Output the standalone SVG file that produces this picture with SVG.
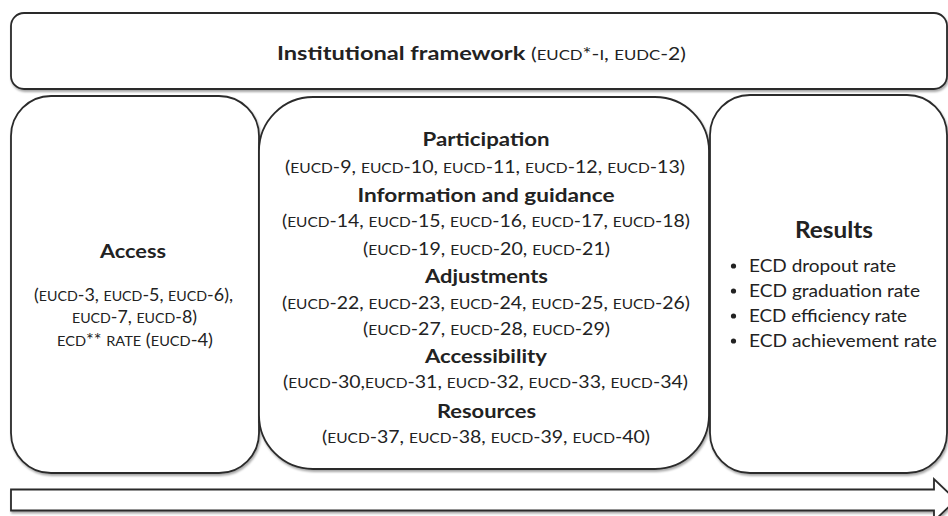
<svg xmlns="http://www.w3.org/2000/svg" width="948" height="516" viewBox="0 0 948 516">
<defs>
<filter id="sh" x="-5%" y="-5%" width="110%" height="115%">
<feDropShadow dx="1" dy="2" stdDeviation="1.2" flood-color="#000" flood-opacity="0.35"/>
</filter>
</defs>
<style>
.box{fill:#fff;stroke:#2b2b2b;stroke-width:1.8;filter:url(#sh)}
text{font-family:Lato,"Open Sans","Liberation Sans",sans-serif;fill:#222}
.h{font-weight:bold;font-size:19px}
.t{font-size:17px}
.sc{font-size:13.5px}
.c{text-anchor:middle}
</style>
<rect width="948" height="516" fill="#fff"/>
<g id="framework">
<rect class="box" x="11" y="13" width="936" height="76" rx="13"/>
<text x="277" y="60" textLength="409" lengthAdjust="spacingAndGlyphs"><tspan class="h">Institutional framework </tspan><tspan class="t">(<tspan class="sc">EUCD</tspan>*-<tspan class="sc">I</tspan>, <tspan class="sc">EUDC</tspan>-2)</tspan></text>
</g>
<g id="access">
<rect class="box" x="11" y="96" width="248" height="377" rx="40"/>
<text class="h c" x="133" y="258" textLength="66" lengthAdjust="spacingAndGlyphs">Access</text>
<text class="t c" x="133.5" y="301" textLength="199" lengthAdjust="spacingAndGlyphs">(<tspan class="sc">EUCD</tspan>-3, <tspan class="sc">EUCD</tspan>-5, <tspan class="sc">EUCD</tspan>-6),</text>
<text class="t c" x="134.5" y="323" textLength="125" lengthAdjust="spacingAndGlyphs"><tspan class="sc">EUCD</tspan>-7, <tspan class="sc">EUCD</tspan>-8)</text>
<text class="t c" x="135" y="346" textLength="156" lengthAdjust="spacingAndGlyphs"><tspan class="sc">ECD</tspan>** <tspan class="sc">RATE</tspan> (<tspan class="sc">EUCD</tspan>-4)</text>
</g>
<g id="process">
<rect class="box" x="259" y="97" width="450" height="372" rx="54"/>
<text class="h c" x="486" y="146" textLength="127" lengthAdjust="spacingAndGlyphs">Participation</text>
<text class="t c" x="485" y="173" textLength="400" lengthAdjust="spacingAndGlyphs">(<tspan class="sc">EUCD</tspan>-9, <tspan class="sc">EUCD</tspan>-10, <tspan class="sc">EUCD</tspan>-11, <tspan class="sc">EUCD</tspan>-12, <tspan class="sc">EUCD</tspan>-13)</text>
<text class="h c" x="486" y="202" textLength="257" lengthAdjust="spacingAndGlyphs">Information and guidance</text>
<text class="t c" x="486" y="227" textLength="408" lengthAdjust="spacingAndGlyphs">(<tspan class="sc">EUCD</tspan>-14, <tspan class="sc">EUCD</tspan>-15, <tspan class="sc">EUCD</tspan>-16, <tspan class="sc">EUCD</tspan>-17, <tspan class="sc">EUCD</tspan>-18)</text>
<text class="t c" x="486.5" y="255" textLength="247" lengthAdjust="spacingAndGlyphs">(<tspan class="sc">EUCD</tspan>-19, <tspan class="sc">EUCD</tspan>-20, <tspan class="sc">EUCD</tspan>-21)</text>
<text class="h c" x="486.5" y="283" textLength="123" lengthAdjust="spacingAndGlyphs">Adjustments</text>
<text class="t c" x="486" y="309" textLength="408" lengthAdjust="spacingAndGlyphs">(<tspan class="sc">EUCD</tspan>-22, <tspan class="sc">EUCD</tspan>-23, <tspan class="sc">EUCD</tspan>-24, <tspan class="sc">EUCD</tspan>-25, <tspan class="sc">EUCD</tspan>-26)</text>
<text class="t c" x="486.5" y="335" textLength="247" lengthAdjust="spacingAndGlyphs">(<tspan class="sc">EUCD</tspan>-27, <tspan class="sc">EUCD</tspan>-28, <tspan class="sc">EUCD</tspan>-29)</text>
<text class="h c" x="486" y="363" textLength="122" lengthAdjust="spacingAndGlyphs">Accessibility</text>
<text class="t c" x="485.5" y="388" textLength="405" lengthAdjust="spacingAndGlyphs">(<tspan class="sc">EUCD</tspan>-30,<tspan class="sc">EUCD</tspan>-31, <tspan class="sc">EUCD</tspan>-32, <tspan class="sc">EUCD</tspan>-33, <tspan class="sc">EUCD</tspan>-34)</text>
<text class="h c" x="486.5" y="418" textLength="99" lengthAdjust="spacingAndGlyphs">Resources</text>
<text class="t c" x="486" y="443" textLength="328" lengthAdjust="spacingAndGlyphs">(<tspan class="sc">EUCD</tspan>-37, <tspan class="sc">EUCD</tspan>-38, <tspan class="sc">EUCD</tspan>-39, <tspan class="sc">EUCD</tspan>-40)</text>
</g>
<g id="results">
<rect class="box" x="710" y="95" width="237" height="378" rx="40"/>
<text class="h c" x="834" y="238" textLength="78" lengthAdjust="spacingAndGlyphs" style="font-size:22px">Results</text>
<circle cx="733.5" cy="266" r="2.6" fill="#222"/>
<circle cx="733.5" cy="291" r="2.6" fill="#222"/>
<circle cx="733.5" cy="316" r="2.6" fill="#222"/>
<circle cx="733.5" cy="341" r="2.6" fill="#222"/>
<text class="t" x="749" y="272" textLength="147" lengthAdjust="spacingAndGlyphs">ECD dropout rate</text>
<text class="t" x="749" y="297" textLength="171" lengthAdjust="spacingAndGlyphs">ECD graduation rate</text>
<text class="t" x="749" y="322" textLength="158" lengthAdjust="spacingAndGlyphs">ECD efficiency rate</text>
<text class="t" x="749" y="347" textLength="188" lengthAdjust="spacingAndGlyphs">ECD achievement rate</text>
</g>
<g id="connectors">
<polygon class="box" points="11,489.5 934,489.5 934,479 956,500 934,521 934,510.5 11,510.5"/>
</g>
</svg>
